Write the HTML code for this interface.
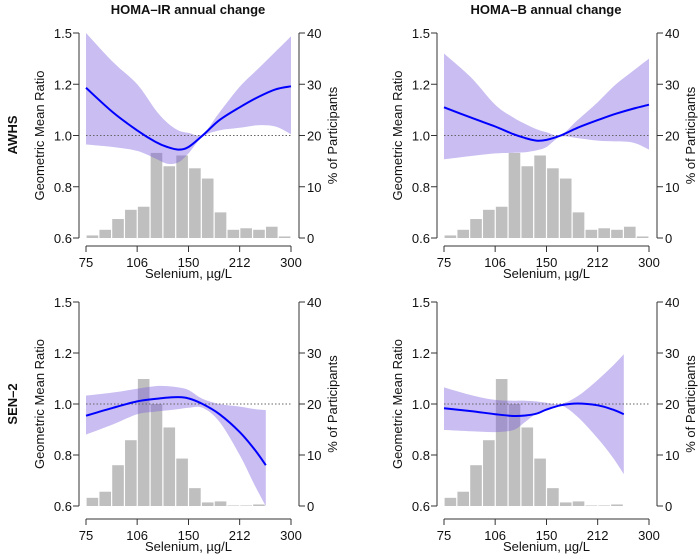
<!DOCTYPE html>
<html><head><meta charset="utf-8"><style>
html,body{margin:0;padding:0;background:#fff;}
svg{display:block;font-family:"Liberation Sans",Arial,sans-serif;}
</style></head><body>
<svg id="chart" width="700" height="554" viewBox="0 0 700 554"></svg>
<script>
const xTickVals = [75,106,150,212,300];
const yTickVals = [0.6,0.8,1.0,1.2,1.5];
const yTickLabels = ["0.6","0.8","1.0","1.2","1.5"];
const pctTickVals = [0,10,20,30,40];
const pctTickLabels = ["0","10","20","30","40"];
const colTitles = ["HOMA\u2013IR annual change","HOMA\u2013B annual change"];
const rowTitles = ["AWHS","SEN\u20132"];

const awhsBars = [0.5,1.6,3.7,5.5,6.1,16.6,14,16.1,13.6,11.6,5.0,1.6,1.9,1.6,2.2,0.3];
const senBars = [1.6,2.8,8.0,12.9,24.9,20,15.4,9.3,3.5,0.7,0.9,0.1,0.1,0.3,0,0];

const gridTop = [75,90,106,120,130,140,150,165,185,212,240,270,300];
const tlFit = [1.186,1.09,1.02,0.975,0.955,0.945,0.955,1.0,1.06,1.11,1.15,1.18,1.192];
const tlUp  = [1.5,1.33,1.2,1.1,1.05,1.02,1.01,1.005,1.09,1.19,1.29,1.39,1.48];
const tlLow = [0.965,0.955,0.94,0.91,0.89,0.895,0.93,0.995,1.02,1.03,1.04,1.035,1.005];

const trFit = [1.11,1.07,1.035,1.005,0.99,0.98,0.983,1.0,1.03,1.06,1.085,1.105,1.12];
const trUp  = [1.38,1.24,1.12,1.07,1.045,1.025,1.013,1.002,1.06,1.13,1.2,1.28,1.35];
const trLow = [0.907,0.92,0.93,0.933,0.935,0.942,0.955,0.995,0.99,0.98,0.977,0.972,0.945];

const gridBot = [75,90,106,120,130,140,150,165,185,212,235,253];
const blFit = [0.954,0.985,1.01,1.02,1.025,1.027,1.022,1.0,0.96,0.89,0.82,0.76];
const blUp  = [1.033,1.045,1.06,1.07,1.07,1.065,1.055,1.02,1.0,0.99,0.98,0.976];
const blLow = [0.88,0.92,0.96,0.97,0.975,0.98,0.985,0.985,0.93,0.80,0.68,0.6];

const brFit = [0.983,0.972,0.96,0.953,0.955,0.962,0.978,0.995,1.002,0.995,0.978,0.96];
const brUp  = [1.065,1.035,1.016,1.013,1.013,1.01,1.005,1.0,1.03,1.094,1.15,1.195];
const brLow = [0.898,0.893,0.89,0.898,0.93,0.963,0.98,0.995,0.95,0.865,0.79,0.725];

const NS="http://www.w3.org/2000/svg";
const svg=document.getElementById('chart');
function mk(tag,attrs,parent){const e=document.createElementNS(NS,tag);for(const k in attrs)e.setAttribute(k,attrs[k]);(parent||svg).appendChild(e);return e;}
function smooth(pts,start){
  let d=(start?'M':'L')+pts[0][0].toFixed(1)+','+pts[0][1].toFixed(1);
  for(let i=0;i<pts.length-1;i++){
    const p0=pts[Math.max(0,i-1)],p1=pts[i],p2=pts[i+1],p3=pts[Math.min(pts.length-1,i+2)];
    const c1=[p1[0]+(p2[0]-p0[0])/6,p1[1]+(p2[1]-p0[1])/6];
    const c2=[p2[0]-(p3[0]-p1[0])/6,p2[1]-(p3[1]-p1[1])/6];
    d+='C'+c1[0].toFixed(1)+','+c1[1].toFixed(1)+' '+c2[0].toFixed(1)+','+c2[1].toFixed(1)+' '+p2[0].toFixed(1)+','+p2[1].toFixed(1);
  }
  return d;
}

const panels=[
 {dx:0,yTop:33,yBot:238,axY:246,bars:awhsBars,grid:gridTop,fit:tlFit,up:tlUp,low:tlLow,name:'awhs-homa-ir'},
 {dx:358,yTop:33,yBot:238,axY:246,bars:awhsBars,grid:gridTop,fit:trFit,up:trUp,low:trLow,name:'awhs-homa-b'},
 {dx:0,yTop:302,yBot:506,axY:519,bars:senBars,grid:gridBot,fit:blFit,up:blUp,low:blLow,name:'sen2-homa-ir'},
 {dx:358,yTop:302,yBot:506,axY:519,bars:senBars,grid:gridBot,fit:brFit,up:brUp,low:brLow,name:'sen2-homa-b'}
];

panels.forEach(p=>{
 const g=mk('g',{});
 
 
 const yAx=79+p.dx, x0=86+p.dx, x1=291+p.dx, rAx=299+p.dx;
 const xS=v=>x0+(Math.log(v/75)/Math.log(4))*(x1-x0);
 const yS=v=>{const n=yTickVals.length;
   for(let i=0;i<n-1;i++){const a=yTickVals[i],b=yTickVals[i+1];
     if(v<=b||i===n-2){const f=(i+(v-a)/(b-a))/(n-1);return p.yBot-f*(p.yBot-p.yTop);}}};
 const pS=v=>p.yBot-v/40*(p.yBot-p.yTop);
 p.bars.forEach((b,i)=>{
   if(b<=0)return;
   const e0=75*Math.pow(4,i/16), e1=75*Math.pow(4,(i+1)/16);
   const r=mk('rect',{x:xS(e0)+0.6,y:pS(b),width:xS(e1)-xS(e0)-1.2,height:pS(0)-pS(b),fill:'#bfbfbf'},g);
   
   
 });
 const upPts=p.grid.map((x,i)=>[xS(x),yS(p.up[i])]);
 const lowPts=p.grid.map((x,i)=>[xS(x),yS(p.low[i])]).reverse();
 const d=smooth(upPts,true)+smooth(lowPts,false)+'Z';
 const band=mk('path',{d:d,fill:'rgb(120,90,220)','fill-opacity':0.4,stroke:'none'},g);
 
 
 const ref=mk('line',{x1:x0,x2:x1,y1:yS(1),y2:yS(1),stroke:'#666','stroke-width':1,'stroke-dasharray':'1.5,2'},g);
 
 
 const fitPts=p.grid.map((x,i)=>[xS(x),yS(p.fit[i])]);
 const fl=mk('path',{d:smooth(fitPts,true),fill:'none',stroke:'#0000ff','stroke-width':2,'stroke-linejoin':'round'},g);
 
 
 const la=mk('line',{x1:yAx,x2:yAx,y1:p.yTop,y2:p.yBot,stroke:'#333'},g);
 
 
 yTickVals.forEach((v,i)=>{
   mk('line',{x1:yAx-6,x2:yAx,y1:yS(v),y2:yS(v),stroke:'#333'},g);
   const t=mk('text',{x:yAx-7,y:yS(v)+5,'text-anchor':'end','font-size':13,fill:'#111'},g);
   t.textContent=yTickLabels[i];
   
   
 });
 const ra=mk('line',{x1:rAx,x2:rAx,y1:p.yTop,y2:p.yBot,stroke:'#333'},g);
 
 
 pctTickVals.forEach((v,i)=>{
   mk('line',{x1:rAx,x2:rAx+6,y1:pS(v),y2:pS(v),stroke:'#333'},g);
   const t=mk('text',{x:rAx+8,y:pS(v)+5,'font-size':13,fill:'#111'},g);
   t.textContent=pctTickLabels[i];
   
   
 });
 const xa=mk('line',{x1:x0,x2:x1,y1:p.axY,y2:p.axY,stroke:'#333'},g);
 
 
 xTickVals.forEach(v=>{
   mk('line',{x1:xS(v),x2:xS(v),y1:p.axY,y2:p.axY+6,stroke:'#333'},g);
   const t=mk('text',{x:xS(v),y:p.axY+21,'text-anchor':'middle','font-size':13,fill:'#111'},g);
   t.textContent=String(v);
   
   
 });
 const xl=mk('text',{x:(x0+x1)/2,y:p.axY+32,'text-anchor':'middle','font-size':13,fill:'#111'},g);
 xl.textContent='Selenium, \u00b5g/L';
 
 
 const cy=(p.yTop+p.yBot)/2;
 const yl=mk('text',{x:0,y:0,'text-anchor':'middle','font-size':13,fill:'#111',transform:`translate(${44+p.dx},${cy}) rotate(-90)`},g);
 yl.textContent='Geometric Mean Ratio';
 
 
 const yr=mk('text',{x:0,y:0,'text-anchor':'middle','font-size':13,fill:'#111',transform:`translate(${337+p.dx},${cy}) rotate(-90)`},g);
 yr.textContent='% of Participants';
 
 
});

colTitles.forEach((c,i)=>{
 const t=mk('text',{x:188+i*358,y:14,'text-anchor':'middle','font-size':13,'font-weight':'bold',fill:'#111'});
 t.textContent=c;
 
 
});
rowTitles.forEach((r,i)=>{
 const cy=i?404:135;
 const t=mk('text',{x:0,y:0,'text-anchor':'middle','font-size':13,'font-weight':'bold',fill:'#111',transform:`translate(17,${cy}) rotate(-90)`});
 t.textContent=r;
 
 
});
</script>
</body></html>
